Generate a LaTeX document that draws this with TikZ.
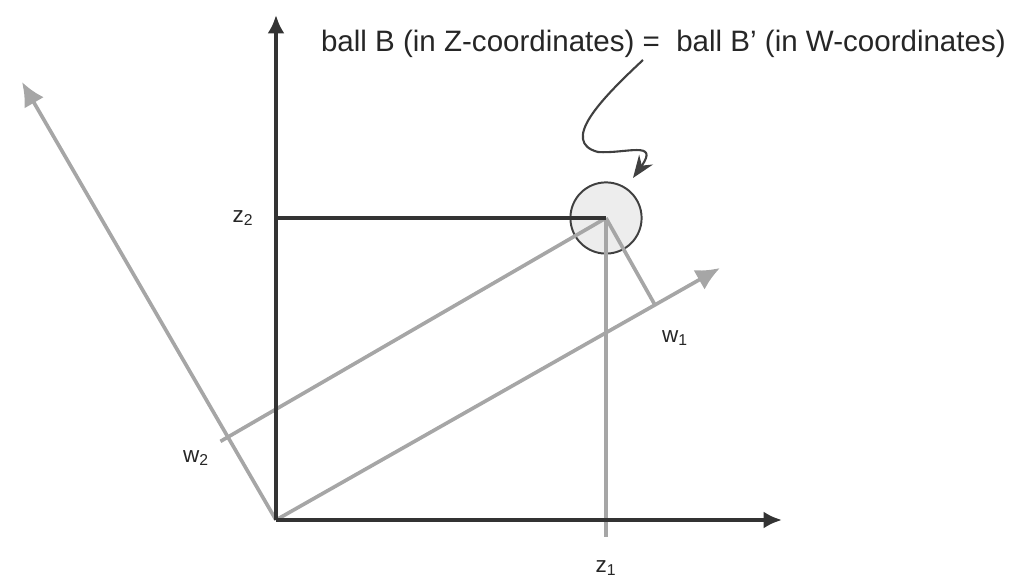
\documentclass[tikz,border=0pt]{standalone}
\usepackage{fontspec}
\setmainfont{Liberation Sans}
\usetikzlibrary{arrows.meta,calc}
\tikzstyle{zaxis}=[draw=black!80,line width=3pt,-{Latex[length=13pt,width=12pt]}]
\tikzstyle{waxis}=[draw=black!35,line width=2.6pt,-{Latex[length=17pt,width=16pt]}]
\tikzstyle{wline}=[draw=black!35,line width=2.6pt]
\tikzstyle{zline}=[draw=black!80,line width=2.6pt]
\tikzstyle{coord}=[font=\fontsize{16}{18}\selectfont,text=black!85]

\begin{document}
\begin{tikzpicture}[x=0.025cm,y=-0.025cm]
\useasboundingbox (0,0) rectangle (1009,578);
% points
\coordinate (o) at (276,520);
\coordinate (c) at (606,218);
\coordinate (ztop) at (276,15);
\coordinate (zright) at (782,520);
\coordinate (wone) at (720,268);
\coordinate (wtwo) at (22,82);
\coordinate (fone) at (655,305);
\coordinate (ftwo) at (228,437);
\coordinate (zdown) at (606,537);
\coordinate (zleft) at (276,218);
% ball
\node[circle,draw=black!75,line width=1.4pt,fill=black!7,minimum size=1.78cm,inner sep=0pt] (ball) at (c) {};
% W-coordinates
\draw[waxis] (o) -- (wone);
\draw[waxis] (o) -- (wtwo);
\draw[wline] (c) -- (fone);
\draw[wline] (c) -- ($(c)!1.02!(ftwo)$);
\draw[wline,line width=3pt] (c) -- (zdown);
% Z-coordinates
\draw[zaxis] (o) -- (ztop);
\draw[zaxis] (o) -- (zright);
\draw[zline] (zleft) -- (c);
% labels
\node[coord] (ztwolab) at (243,218) {z\textsubscript{2}};
\node[coord] (zonelab) at (606,568) {z\textsubscript{1}};
\node[coord] (wonelab) at (675,338) {w\textsubscript{1}};
\node[coord] (wtwolab) at (196,458) {w\textsubscript{2}};
\node[anchor=east,font=\fontsize{21}{24}\selectfont,text=black!85,inner sep=0pt] (title) at (1006,44)
  {ball B (in Z-coordinates) = ~ball B' (in W-coordinates)};
% pointer
\draw[black!75,line width=1.5pt,-{Stealth[length=16pt,width=12pt]}]
  (643,60) .. controls (600,100) and (560,142) .. (598,152)
  .. controls (625,154) and (660,140) .. (633,178);
\end{tikzpicture}
\end{document}
